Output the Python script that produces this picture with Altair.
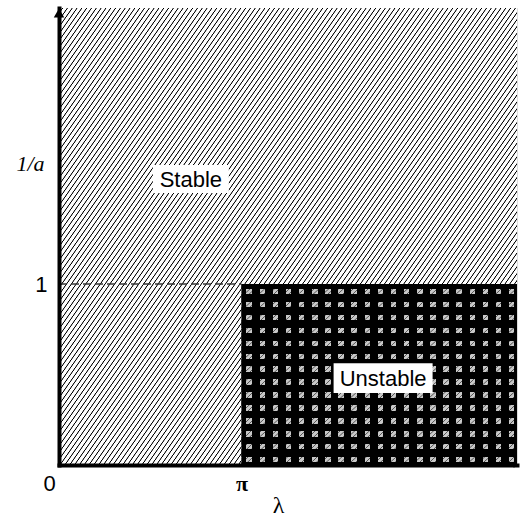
import math
import altair as alt
import pandas as pd

# ---------------- data ----------------
PI = math.pi
x_max = 2.51 * PI          # right end of the lambda axis
y_max = 2.525              # top end of the 1/a axis
x_ticks = [0, PI]
x_tick_labels = ["0", "π"]
y_ticks = [1]
y_tick_labels = ["1"]
lambda_crit = PI           # instability starts at lambda = pi
inv_a_crit = 1             # ... for 1/a below 1
region_names = ["Stable", "Unstable"]
region_label_x = [2.27, 5.58]
region_label_y = [1.58, 0.48]

# ---------------- geometry / style ----------------
W, H = 458, 457
PAD = {"left": 59, "top": 8, "right": 521 - 59 - W, "bottom": 521 - 8 - H}


def hatch_gradient(n_periods, x2, y2, ink="#000000", paper="#ffffff"):
    stops = []
    p = 1.0 / n_periods
    for k in range(n_periods):
        s = k * p
        stops += [
            {"offset": round(s, 6), "color": paper},
            {"offset": round(s + 0.58 * p, 6), "color": paper},
            {"offset": round(s + 0.72 * p, 6), "color": ink},
            {"offset": round(s + 0.80 * p, 6), "color": ink},
            {"offset": round(s + 0.94 * p, 6), "color": paper},
        ]
    stops.append({"offset": 1.0, "color": paper})
    return {"gradient": "linear", "x1": 0, "y1": 0, "x2": x2, "y2": y2, "stops": stops}


def band_gradient(n_periods, horizontal, phase=0.0, gap=0.38):
    stops = []
    p = 1.0 / n_periods
    for k in range(n_periods + 1):
        s = (k - phase) * p
        pts = [(s, "#000000"), (s + (1 - gap) * p, "#000000"),
               (s + (1 - gap) * p, "rgba(0,0,0,0)"), (s + p, "rgba(0,0,0,0)")]
        for o, c in pts:
            o = min(max(o, 0.0), 1.0)
            stops.append({"offset": round(o, 6), "color": c})
    if horizontal:
        return {"gradient": "linear", "x1": 0, "y1": 0, "x2": 1, "y2": 0, "stops": stops}
    return {"gradient": "linear", "x1": 0, "y1": 0, "x2": 0, "y2": 1, "stops": stops}


xscale = alt.Scale(domain=[0, x_max], nice=False, zero=False)
yscale = alt.Scale(domain=[0, y_max], nice=False, zero=False)

label_expr_x = " : ".join(
    f"datum.value < {(x_ticks[i] + x_ticks[i + 1]) / 2} ? '{x_tick_labels[i]}'"
    for i in range(len(x_ticks) - 1)
) + f" : '{x_tick_labels[-1]}'"

x_axis = alt.Axis(
    values=x_ticks, labelExpr=label_expr_x, grid=False, ticks=False, zindex=2,
    domainWidth=4, domainColor="black", domainCap="square",
    labelFontSize=22, labelColor="black", labelPadding=8,
    labelFont={"condition": {"test": "datum.value > 0", "value": "Liberation Serif"}, "value": "Liberation Sans"},
    labelFontWeight={"condition": {"test": "datum.value > 0", "value": "bold"}, "value": "normal"},
    labelOffset={"condition": {"test": "datum.value == 0", "value": -16}, "value": 0},
    title="λ", titleFont="Liberation Serif", titleFontSize=24, titleFontWeight="normal",
    titleColor="black", titleX=219, titleY=40, titleAlign="center", titleBaseline="middle",
)
y_axis = alt.Axis(
    values=y_ticks, labelExpr=f"'{y_tick_labels[0]}'", grid=False, ticks=False, zindex=2,
    domainWidth=4, domainColor="black", domainCap="square",
    labelFontSize=22, labelFont="Liberation Sans", labelColor="black", labelPadding=12,
    title="1/a", titleFont="Liberation Serif", titleFontStyle="italic", titleFontWeight="normal",
    titleFontSize=22, titleColor="black", titleAngle=0, titleX=-29, titleY=155,
    titleAlign="center", titleBaseline="middle",
)

full = pd.DataFrame({"x0": [0], "x1": [x_max], "y0": [0], "y1": [y_max]})
unst = pd.DataFrame({"x0": [lambda_crit], "x1": [x_max], "y0": [0], "y1": [inv_a_crit]})
dash = pd.DataFrame({"x0": [0], "x1": [lambda_crit], "y": [inv_a_crit]})

stable = alt.Chart(full).mark_rect(fill=hatch_gradient(170, 1.2, 0.84)).encode(
    x=alt.X("x0:Q", scale=xscale, axis=x_axis), x2="x1",
    y=alt.Y("y0:Q", scale=yscale, axis=y_axis), y2="y1",
)

uw = W * (x_max - lambda_crit) / x_max
uh = H * inv_a_crit / y_max
base = alt.Chart(unst).encode(
    x=alt.X("x0:Q", scale=xscale), x2="x1",
    y=alt.Y("y0:Q", scale=yscale), y2="y1",
)
unstable_base = base.mark_rect(fill=hatch_gradient(100, 1.2, 0.84, ink="#555555", paper="#c8c8c8"))
unstable_v = base.mark_rect(fill=band_gradient(round(uw / 13), True, 0.2, 0.42))
unstable_h = base.mark_rect(fill=band_gradient(round(uh / 13), False, 0.2, 0.42))

dashed = alt.Chart(dash).mark_rule(color="#333333", strokeWidth=1.3, strokeDash=[8, 4]).encode(
    x=alt.X("x0:Q", scale=xscale), x2="x1", y=alt.Y("y:Q", scale=yscale)
)

arrow_up = alt.Chart(pd.DataFrame({"x": [0], "y": [y_max]})).mark_point(
    shape="triangle-up", filled=True, color="black", size=110, opacity=1, yOffset=5
).encode(x=alt.X("x:Q", scale=xscale), y=alt.Y("y:Q", scale=yscale))
arrow_right = alt.Chart(pd.DataFrame({"x": [x_max], "y": [0]})).mark_point(
    shape="triangle-right", filled=True, color="black", size=30, opacity=1, xOffset=-1
).encode(x=alt.X("x:Q", scale=xscale), y=alt.Y("y:Q", scale=yscale))

labels = pd.DataFrame({"name": region_names, "x": region_label_x, "y": region_label_y})
box_sizes = {"Stable": (76, 28), "Unstable": (99, 30)}
layers = [stable, unstable_base, unstable_v, unstable_h, dashed, arrow_up, arrow_right]
for name in region_names:
    bw, bh = box_sizes[name]
    r = bh / bw
    path = f"M-1,{-r:.4f}L1,{-r:.4f}L1,{r:.4f}L-1,{r:.4f}Z"
    sub = alt.Chart(labels).transform_filter(alt.datum.name == name)
    layers.append(sub.mark_point(shape=path, filled=True, color="white", opacity=1, size=bw * bw).encode(
        x=alt.X("x:Q", scale=xscale), y=alt.Y("y:Q", scale=yscale)))
    layers.append(sub.mark_text(font="Liberation Sans", fontSize=22, color="black",
                                align="center", baseline="middle", dy=1).encode(
        x=alt.X("x:Q", scale=xscale), y=alt.Y("y:Q", scale=yscale), text="name:N"))

chart = alt.layer(*layers).properties(
    width=W, height=H,
    autosize=alt.AutoSizeParams(type="none"),
    padding=PAD,
).configure_view(stroke=None).configure(background="white")

chart.save("out.html", embed_options={"renderer": "svg", "actions": False})
